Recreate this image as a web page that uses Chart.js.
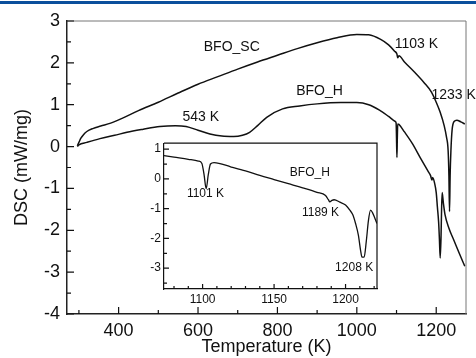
<!DOCTYPE html>
<html>
<head>
<meta charset="utf-8">
<script src="https://cdn.jsdelivr.net/npm/chart.js@4.4.0/dist/chart.umd.min.js"></script>
<style>
  html, body { margin: 0; padding: 0; background: #fff; }
  #wrap { position: relative; width: 476px; height: 358px; overflow: hidden; }
  #topRule { position: absolute; left: 0; top: 1px; width: 476px; height: 3px; background: #0b4f9c; }
  #mainChart { position: absolute; left: 0; top: 0; }
  #insetChart { position: absolute; left: 120px; top: 133px; }
</style>
</head>
<body>
<div id="wrap">
  <canvas id="mainChart" width="476" height="358"></canvas>
  <div id="topRule"></div>
  <canvas id="insetChart" width="264" height="180"></canvas>
</div>
<script>
// --- data ---
const scTemp = [296, 300, 305, 312, 320, 335, 355, 380, 410, 450, 500, 550, 600, 650, 700, 750, 800, 850, 900, 950,
  1000, 1030, 1060, 1080, 1095, 1101, 1103, 1106, 1120, 1145, 1170, 1188, 1200, 1210, 1220, 1226, 1230, 1232,
  1233.5, 1235, 1237, 1240, 1245, 1252, 1262, 1272];
const scDsc = [0.02, 0.1, 0.2, 0.29, 0.36, 0.43, 0.49, 0.56, 0.68, 0.86, 1.06, 1.28, 1.49, 1.67, 1.85, 2.02, 2.18, 2.34, 2.48, 2.6,
  2.68, 2.67, 2.56, 2.43, 2.28, 2.21, 2.12, 2.17, 2.02, 1.78, 1.52, 1.3, 1.06, 0.82, 0.5, 0.22, -0.1, -0.7,
  -1.55, -0.7, -0.1, 0.4, 0.6, 0.63, 0.59, 0.54];

const hTemp = [296, 300, 320, 353, 390, 421, 460, 504, 543, 570, 600, 630, 660, 690, 712, 730, 750, 773, 813, 856,
  900, 960, 1000, 1030, 1057, 1080, 1097, 1099, 1100, 1101, 1102, 1103, 1106, 1120, 1140, 1160, 1180, 1186,
  1189, 1191, 1196, 1200, 1203, 1206, 1208, 1210, 1212, 1213.5, 1215, 1218, 1222, 1232, 1245, 1258, 1272];
const hDsc = [0.0, 0.04, 0.1, 0.19, 0.27, 0.34, 0.41, 0.48, 0.5, 0.48, 0.39, 0.3, 0.25, 0.24, 0.27, 0.34, 0.5, 0.7, 0.9, 0.97,
  1.02, 1.05, 1.05, 1.0, 0.87, 0.72, 0.6, 0.56, 0.2, -0.26, 0.2, 0.54, 0.53, 0.35, 0.07, -0.27, -0.6, -0.7,
  -0.8, -0.74, -0.88, -1.1, -1.45, -1.8, -2.2, -2.66, -2.2, -1.5, -1.1, -1.35, -1.62, -1.95, -2.25, -2.55, -2.86];

const insetTemp = [1073, 1080, 1090, 1097, 1099.5, 1101, 1102.5, 1104, 1105.5, 1108, 1120, 1130, 1140, 1150, 1160, 1170,
  1180, 1186, 1188, 1189, 1190.5, 1192, 1196, 1200, 1203, 1205, 1207, 1209, 1210.5, 1211.5, 1213, 1214.5, 1216,
  1217.5, 1219, 1222];
const insetDsc = [0.78, 0.73, 0.66, 0.6, 0.52, 0.15, -0.33, 0.15, 0.5, 0.55, 0.4, 0.27, 0.12, -0.02, -0.16, -0.3,
  -0.45, -0.56, -0.7, -0.77, -0.72, -0.7, -0.78, -0.88, -1.05, -1.2, -1.5, -1.9, -2.4, -2.63, -2.63, -2.1, -1.4,
  -1.05, -1.15, -1.5];

// tick labels
const xMajor = [400, 600, 800, 1000, 1200];
const xMinor = [300, 500, 700, 900, 1100];
const yMajor = [-4, -3, -2, -1, 0, 1, 2, 3];
const yMinor = [-3.5, -2.5, -1.5, -0.5, 0.5, 1.5, 2.5];
const insetXMajor = [1100, 1150, 1200];
const insetXMinor = [1080, 1090, 1110, 1120, 1130, 1140, 1160, 1170, 1180, 1190, 1210, 1220];
const insetYMajor = [-3, -2, -1, 0, 1];
const insetYMinor = [-3.5, -2.5, -1.5, -0.5, 0.5];

// annotations
const mainNotes = [
  { text: 'BFO_SC', x: 685, y: 2.37 },
  { text: '1103 K', x: 1150, y: 2.45 },
  { text: '1233 K', x: 1244, y: 1.22 },
  { text: 'BFO_H', x: 906, y: 1.32 },
  { text: '543 K', x: 607, y: 0.7 }
];
const insetNotes = [
  { text: '1101 K', x: 1102, y: -0.51 },
  { text: 'BFO_H', x: 1175, y: 0.2 },
  { text: '1189 K', x: 1182.5, y: -1.12 },
  { text: '1208 K', x: 1206, y: -2.98 }
];

const FONT = "'Liberation Sans', Arial, Helvetica, sans-serif";
const INK = '#111';

function toPoints(xs, ys) {
  return xs.map((x, i) => ({ x: x, y: ys[i] }));
}

// inward ticks, frame and text labels
function makeDecor(cfg) {
  return {
    id: 'decor',
    beforeDraw(chart) {
      if (!cfg.fill) return;
      const a = chart.chartArea;
      chart.ctx.save();
      chart.ctx.fillStyle = cfg.fill;
      chart.ctx.fillRect(a.left, a.top, a.right - a.left, a.bottom - a.top);
      chart.ctx.restore();
    },
    afterDraw(chart) {
      const { ctx, chartArea: a } = chart;
      const xs = chart.scales.x, ys = chart.scales.y;
      ctx.save();
      ctx.strokeStyle = cfg.frameColor;
      ctx.lineWidth = cfg.frameWidth;
      ctx.beginPath();
      ctx.moveTo(a.left, a.top);
      ctx.lineTo(a.right, a.top);
      ctx.lineTo(a.right, a.bottom);
      ctx.stroke();

      ctx.strokeStyle = INK;
      ctx.lineWidth = 1.2;
      ctx.beginPath();
      cfg.xMajor.forEach(v => { const p = xs.getPixelForValue(v); ctx.moveTo(p, a.bottom); ctx.lineTo(p, a.bottom - cfg.majorLen); });
      cfg.xMinor.forEach(v => { const p = xs.getPixelForValue(v); ctx.moveTo(p, a.bottom); ctx.lineTo(p, a.bottom - cfg.minorLen); });
      cfg.yMajor.forEach(v => { const p = ys.getPixelForValue(v); ctx.moveTo(a.left, p); ctx.lineTo(a.left + cfg.majorLen, p); });
      cfg.yMinor.forEach(v => { const p = ys.getPixelForValue(v); ctx.moveTo(a.left, p); ctx.lineTo(a.left + cfg.minorLen, p); });
      ctx.stroke();

      ctx.fillStyle = INK;
      ctx.font = cfg.noteSize + 'px ' + FONT;
      ctx.textAlign = 'center';
      ctx.textBaseline = 'middle';
      cfg.notes.forEach(n => ctx.fillText(n.text, xs.getPixelForValue(n.x), ys.getPixelForValue(n.y)));
      ctx.restore();
    }
  };
}

function setTicks(list) {
  return scale => { scale.ticks = list.map(v => ({ value: v })); };
}

// --- main chart ---
new Chart(document.getElementById('mainChart'), {
  type: 'line',
  data: {
    datasets: [
      { label: 'BFO_SC', data: toPoints(scTemp, scDsc) },
      { label: 'BFO_H', data: toPoints(hTemp, hDsc) }
    ]
  },
  options: {
    responsive: false,
    animation: false,
    events: [],
    layout: { padding: { top: 21, right: 10, left: 0, bottom: 0 } },
    plugins: { legend: { display: false }, tooltip: { enabled: false } },
    elements: {
      point: { radius: 0 },
      line: { borderWidth: 1.5, borderColor: INK, fill: false, cubicInterpolationMode: 'monotone' }
    },
    scales: {
      x: {
        type: 'linear', min: 270, max: 1275,
        afterBuildTicks: setTicks(xMajor),
        afterFit: s => { s.height = 44; },
        grid: { display: false, drawTicks: false },
        border: { display: true, color: '#222', width: 1.5 },
        ticks: { color: INK, font: { family: FONT, size: 18 }, padding: 6, maxRotation: 0, autoSkip: false, callback: v => String(v) },
        title: { display: true, text: 'Temperature (K)', color: INK, font: { family: FONT, size: 18 }, padding: { top: 0, bottom: 0 } }
      },
      y: {
        type: 'linear', min: -4, max: 3,
        afterBuildTicks: setTicks(yMajor),
        afterFit: s => { s.width = 67; },
        grid: { display: false, drawTicks: false },
        border: { display: true, color: '#222', width: 1.5 },
        ticks: { color: INK, font: { family: FONT, size: 18 }, padding: 7, autoSkip: false, callback: v => String(v) },
        title: { display: true, text: 'DSC (mW/mg)', color: INK, font: { family: FONT, size: 18 }, padding: { top: 11, bottom: 0 } }
      }
    }
  },
  plugins: [makeDecor({
    frameColor: '#777', frameWidth: 1, majorLen: 7, minorLen: 4,
    xMajor: xMajor, xMinor: xMinor, yMajor: yMajor, yMinor: yMinor,
    notes: mainNotes, noteSize: 14
  })]
});

// --- inset ---
new Chart(document.getElementById('insetChart'), {
  type: 'line',
  data: { datasets: [{ label: 'BFO_H', data: toPoints(insetTemp, insetDsc) }] },
  options: {
    responsive: false,
    animation: false,
    events: [],
    layout: { padding: { top: 10, right: 7, left: 0, bottom: 0 } },
    plugins: { legend: { display: false }, tooltip: { enabled: false } },
    elements: {
      point: { radius: 0 },
      line: { borderWidth: 1.3, borderColor: INK, fill: false, cubicInterpolationMode: 'monotone' }
    },
    scales: {
      x: {
        type: 'linear', min: 1073, max: 1222,
        afterBuildTicks: setTicks(insetXMajor),
        afterFit: s => { s.height = 24; },
        grid: { display: false, drawTicks: false },
        border: { display: true, color: INK, width: 1.2 },
        ticks: { color: INK, font: { family: FONT, size: 12 }, padding: 3, maxRotation: 0, autoSkip: false, callback: v => String(v) }
      },
      y: {
        type: 'linear', min: -3.7, max: 1.2,
        afterBuildTicks: setTicks(insetYMajor),
        afterFit: s => { s.width = 44; },
        grid: { display: false, drawTicks: false },
        border: { display: true, color: INK, width: 1.2 },
        ticks: { color: INK, font: { family: FONT, size: 12 }, padding: 3, autoSkip: false, callback: v => String(v) }
      }
    }
  },
  plugins: [makeDecor({
    fill: '#fff', frameColor: INK, frameWidth: 1.2, majorLen: 5, minorLen: 3,
    xMajor: insetXMajor, xMinor: insetXMinor, yMajor: insetYMajor, yMinor: insetYMinor,
    notes: insetNotes, noteSize: 12
  })]
});
</script>
</body>
</html>
